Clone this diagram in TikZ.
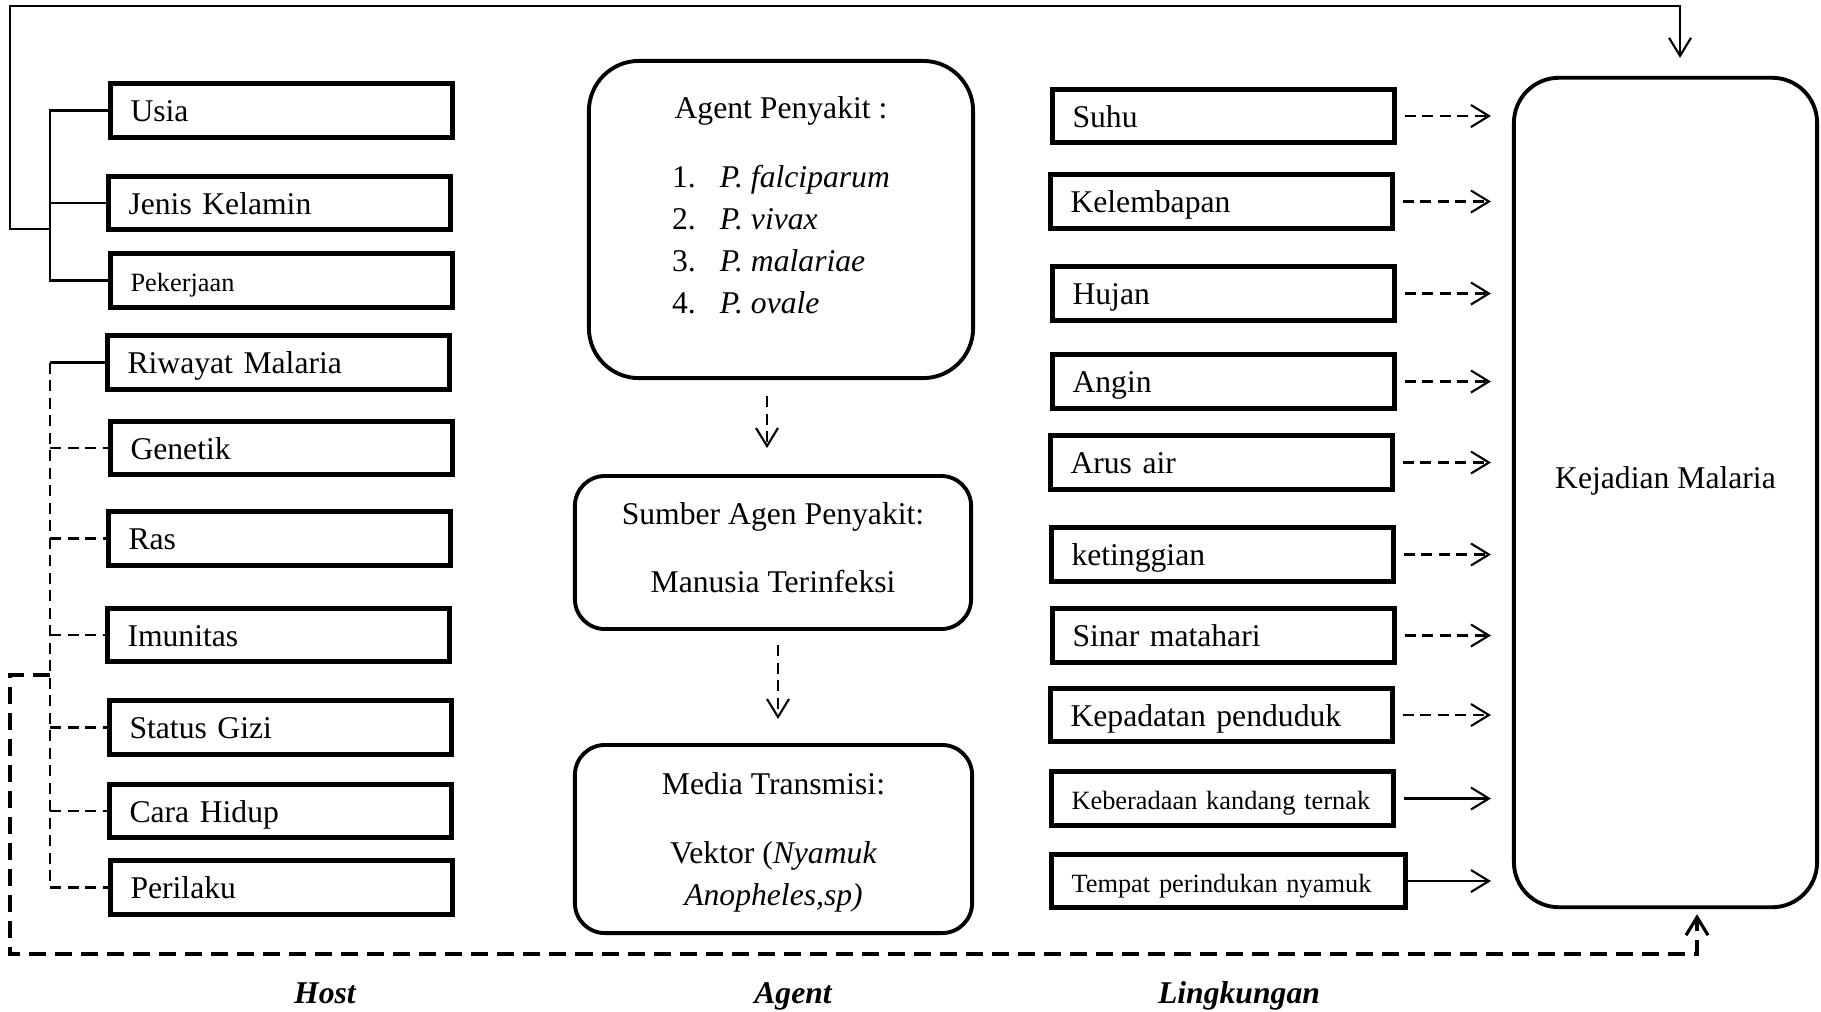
\documentclass[tikz,border=0pt]{standalone}
\usepackage{fontspec}
\setmainfont{Liberation Serif}
\usetikzlibrary{arrows.meta}

\begin{document}
\begin{tikzpicture}[x=0.01cm,y=-0.01cm,
		every node/.style={font=\fontsize{9}{11.9}\selectfont},
		fbox/.style={draw,line width=1.4pt,anchor=west,outer sep=0pt,inner xsep=0.2cm,inner ysep=0pt,text width=3.02cm,
			minimum height=0.535cm,text height=0.24cm,text depth=0.02cm,align=left},
		small/.style={font=\fontsize{7.5}{9}\selectfont},
		rbox/.style={draw,line width=1.1pt,rounded corners=0.3cm,align=center,inner sep=0pt},
		conn/.style={line width=0.6pt},
		dsh/.style={conn,dash pattern=on 0.11cm off 0.065cm},
		ldsh/.style={line width=0.9pt,dash pattern=on 0.17cm off 0.09cm},
		tip/.style={-{Straight Barb[length=1.8mm,width=2.2mm]}},
		lbl/.style={anchor=base,font=\fontsize{9}{11}\selectfont\bfseries\itshape}]
	\useasboundingbox (0,0) rectangle (1821,1011);
	% host
	\node[fbox] (usia) at (110.5,110.5) {Usia};
	\node[fbox] (jenis) at (108.5,203) {Jenis Kelamin};
	\node[fbox,small] (kerja) at (110.5,280.5) {Pekerjaan};
	\node[fbox] (riwayat) at (107.5,362.5) {Riwayat Malaria};
	\node[fbox] (genetik) at (110.5,448) {Genetik};
	\node[fbox] (ras) at (108.5,538.5) {Ras};
	\node[fbox] (imun) at (107.5,635) {Imunitas};
	\node[fbox] (gizi) at (109.5,727.5) {Status Gizi};
	\node[fbox] (hidup) at (109.5,811) {Cara Hidup};
	\node[fbox] (laku) at (110.5,887.5) {Perilaku};
	% agent
	\node[rbox,rounded corners=0.5cm,minimum width=3.84cm,minimum height=3.17cm] (agent) at (781,219.5) {Agent Penyakit :\\[0.28cm]
		\begin{tabular}[t]{@{}l@{\hspace{0.24cm}}l@{}}
			1. & \textit{P. falciparum}\\ 2. & \textit{P. vivax}\\
			3. & \textit{P. malariae}\\ 4. & \textit{P. ovale}\\[0.17cm]
		\end{tabular}};
	\node[rbox,minimum width=3.96cm,minimum height=1.53cm] (sumber) at (773,552.5) {Sumber Agen Penyakit:\\[7.7pt]Manusia Terinfeksi\rule[-0.1cm]{0pt}{0pt}};
	\node[rbox,minimum width=3.97cm,minimum height=1.88cm] (media) at (773.5,839) {\rule{0pt}{0.28cm}Media Transmisi:\\[7.7pt]Vektor (\textit{Nyamuk}\\\textit{Anopheles,sp)}};
	% lingkungan
	\node[fbox] (suhu) at (1052.5,116) {Suhu};
	\node[fbox] (lembap) at (1050.5,201.5) {Kelembapan};
	\node[fbox] (hujan) at (1052.5,293.5) {Hujan};
	\node[fbox] (angin) at (1052.5,381.5) {Angin};
	\node[fbox] (arus) at (1050.5,462.5) {Arus air};
	\node[fbox] (tinggi) at (1051.5,554.5) {ketinggian};
	\node[fbox] (sinar) at (1052.5,635.5) {Sinar matahari};
	\node[fbox] (padat) at (1050.5,715) {Kepadatan penduduk};
	\node[fbox,small] (kandang) at (1051.5,798.5) {\mbox{Keberadaan kandang ternak}};
	\node[fbox,small,text width=3.14cm] (tempat) at (1051.5,881) {Tempat perindukan nyamuk};
	\node[rbox,rounded corners=0.45cm,minimum width=3.03cm,minimum height=8.29cm,text depth=0.29cm] (kej) at (1665.5,492.5) {Kejadian Malaria};
	\node[lbl] (host) at (325,1003) {Host};
	\node[lbl] (agn) at (793,1003) {Agent};
	\node[lbl] (ling) at (1239,1003) {Lingkungan};
	% connectors
	\coordinate (hx) at (50,0); \coordinate (hb) at (50,229); \coordinate (tl) at (10,6);
	\coordinate (ob) at (50,675); \coordinate (bl) at (10,954);
	\coordinate (ktop) at ([xshift=0.145cm]kej.north); \coordinate (kbot) at ([xshift=0.315cm]kej.south);
	\draw[conn] (usia.west) -- (usia.west -| hx) -- (kerja.west -| hx) -- (kerja.west);
	\draw[conn] (jenis.west) -- (jenis.west -| hx);
	\draw[conn,tip,shorten >=0.18cm] (hb) -- (hb -| tl) -- (tl) -- (tl -| ktop) -- (ktop);
	\draw[conn] (riwayat.west) -- (riwayat.west -| hx);
	\draw[dsh] (riwayat.west -| hx) -- (laku.west -| hx);
	\foreach \n in {genetik,ras,imun,gizi,hidup,laku}
		\draw[dsh] (\n.west -| hx) -- (\n.west);
	\draw[ldsh,tip,shorten >=0.05cm] (ob) -- (ob -| bl) -- (bl) -- (bl -| kbot) -- (kbot);
	\draw[dsh,tip,shorten <=0.16cm,shorten >=0.26cm] ([xshift=-0.14cm]agent.south) -- ([xshift=-0.14cm]agent.south |- sumber.north);
	\draw[dsh,tip,shorten <=0.14cm,shorten >=0.24cm] ([xshift=0.05cm]sumber.south) -- ([xshift=0.05cm]sumber.south |- media.north);
	\foreach \n in {suhu,lembap,hujan,angin,arus,tinggi,sinar,padat}
		\draw[dsh,tip,shorten <=0.1cm,shorten >=0.21cm] (\n.east) -- (\n.east -| kej.west);
	\draw[conn,tip,shorten <=0.1cm,shorten >=0.21cm] (kandang.east) -- (kandang.east -| kej.west);
	\draw[conn,tip,shorten >=0.21cm] (tempat.east) -- (tempat.east -| kej.west);
\end{tikzpicture}
\end{document}
